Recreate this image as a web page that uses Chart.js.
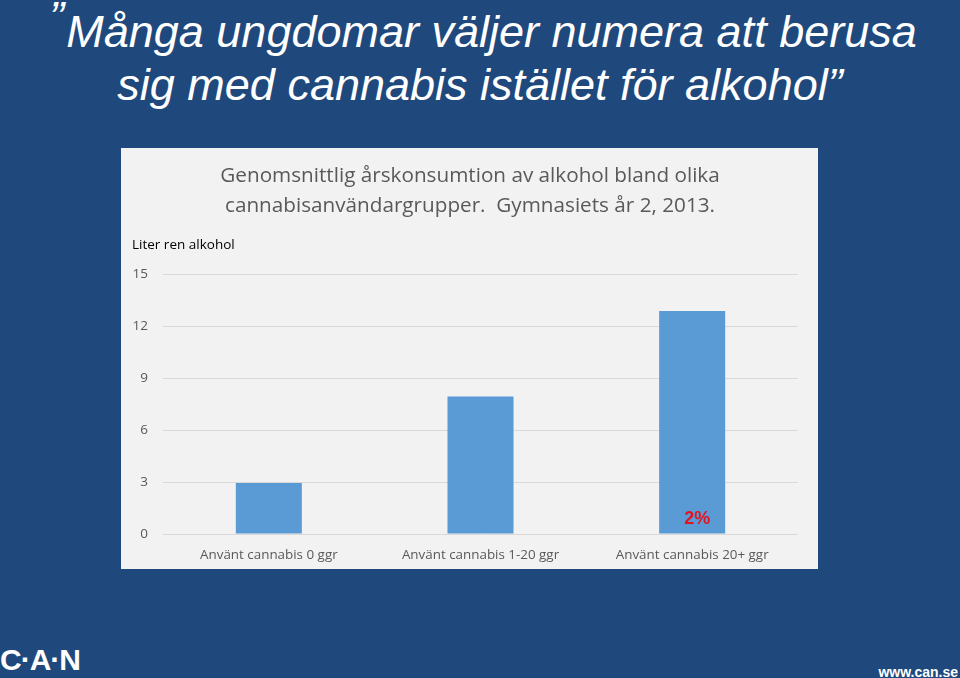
<!DOCTYPE html>
<html lang="sv">
<head>
<meta charset="utf-8">
<title>Alkoholkonsumtion bland cannabisanvändare</title>
<script src="https://cdn.jsdelivr.net/npm/chart.js@4.4.1/dist/chart.umd.min.js"></script>
<style>
    html, body {
        margin: 0;
        padding: 0;
    }
    body {
        width: 960px;
        height: 678px;
        background: #1f497d;
        position: relative;
        overflow: hidden;
        font-family: "Liberation Sans", Arial, sans-serif;
    }
    .rubrik {
        position: absolute;
        left: 0;
        top: 5px;
        width: 960px;
        text-align: center;
        color: #fff;
        font-style: italic;
        font-size: 45px;
        line-height: 53px;
    }
    .rubrik .rad1 {
        position: relative;
        left: 3px;
    }
    .rubrik .citat-start {
        position: relative;
        top: -14px;
        margin-right: 2px;
    }
    .panel {
        position: absolute;
        left: 121px;
        top: 148px;
        width: 697px;
        height: 421px;
        background: #f2f2f2;
    }
    .logo {
        position: absolute;
        left: 0;
        top: 643px;
        color: #fff;
        font-weight: bold;
        font-size: 30px;
        letter-spacing: -1px;
    }
    .webb {
        position: absolute;
        right: 2px;
        top: 664px;
        color: #fff;
        font-weight: bold;
        font-size: 14px;
    }
</style>
</head>
<body>

<div class="rubrik">
    <span class="rad1"><span class="citat-start">”</span>Många ungdomar väljer numera att berusa</span><br>
    sig med cannabis istället för alkohol”
</div>

<div class="panel">
    <canvas id="alkoholChart" width="697" height="421"></canvas>
</div>

<div class="logo">C·A·N</div>
<div class="webb">www.can.se</div>

<script>
// Data
const kategorier = ['Använt cannabis 0 ggr', 'Använt cannabis 1-20 ggr', 'Använt cannabis 20+ ggr'];
const literRenAlkohol = [2.95, 7.95, 12.9];
const stapelNoter = ['', '', '2%'];
const yTicks = [0, 3, 6, 9, 12, 15];

const diagramTitel = [
    'Genomsnittlig årskonsumtion av alkohol bland olika',
    'cannabisanvändargrupper.  Gymnasiets år 2, 2013.'
];
const yAxelText = 'Liter ren alkohol';

const typsnitt = '"Open Sans", "Noto Sans", sans-serif';

// Plugin för röd procentnotering i stapeln
const stapelNotPlugin = {
    id: 'stapelNot',
    afterLayout: (chart) => {
        // Titeln står centrerad över ritytan, inte över hela panelen
        if (chart.titleBlock) {
            chart.titleBlock.left += 10;
        }
    },
    afterDatasetsDraw: (chart) => {
        const ctx = chart.ctx;
        const meta = chart.getDatasetMeta(0);
        const yAxis = chart.scales.y;
        ctx.save();
        ctx.font = 'bold 18px "Liberation Sans", Arial, sans-serif';
        ctx.fillStyle = '#e3141f';
        ctx.textAlign = 'center';
        ctx.textBaseline = 'middle';
        meta.data.forEach((bar, i) => {
            if (!stapelNoter[i]) return;
            ctx.fillText(stapelNoter[i], bar.x + 5, yAxis.getPixelForValue(0) - 15);
        });
        ctx.restore();
    }
};

const canvas = document.getElementById('alkoholChart');
const ctx = canvas.getContext('2d');

new Chart(ctx, {
    type: 'bar',
    data: {
        labels: kategorier,
        datasets: [{
            label: yAxelText,
            data: literRenAlkohol,
            backgroundColor: '#5b9bd5',
            borderWidth: 0,
            categoryPercentage: 1,
            barPercentage: 0.312
        }]
    },
    options: {
        responsive: false,
        animation: false,
        layout: {
            padding: {
                left: 11,
                right: 20,
                top: 0,
                bottom: 0
            }
        },
        plugins: {
            legend: { display: false },
            tooltip: { enabled: false },
            title: {
                display: true,
                text: diagramTitel,
                color: '#595959',
                font: {
                    family: typsnitt,
                    size: 20.7,
                    weight: 'normal',
                    lineHeight: 1.45
                },
                padding: { top: 13, bottom: 15 }
            },
            subtitle: {
                display: true,
                text: yAxelText,
                align: 'start',
                color: '#000000',
                font: {
                    family: typsnitt,
                    size: 13.5,
                    lineHeight: 1.3
                },
                padding: { top: 0, bottom: 21 }
            }
        },
        scales: {
            x: {
                grid: { display: false },
                border: { display: false },
                afterFit: (scale) => {
                    scale.height = 35;
                },
                ticks: {
                    color: '#595959',
                    padding: 5,
                    maxRotation: 0,
                    font: { family: typsnitt, size: 13.4 }
                }
            },
            y: {
                min: 0,
                max: 15,
                afterBuildTicks: (scale) => {
                    scale.ticks = yTicks.map(v => ({ value: v }));
                },
                afterFit: (scale) => {
                    scale.width = 31;
                },
                grid: {
                    color: '#d9d9d9',
                    drawTicks: false
                },
                border: { display: false },
                ticks: {
                    color: '#595959',
                    padding: 15,
                    font: { family: typsnitt, size: 13.5 }
                }
            }
        }
    },
    plugins: [stapelNotPlugin]
});
</script>
</body>
</html>
